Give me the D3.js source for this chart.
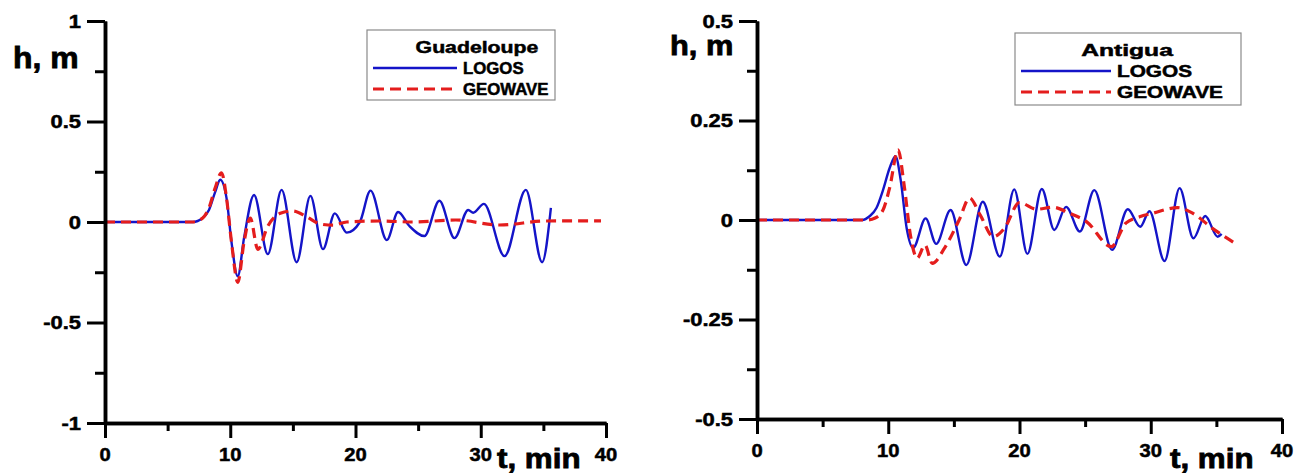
<!DOCTYPE html>
<html>
<head>
<meta charset="utf-8">
<script src="https://cdn.jsdelivr.net/npm/d3@7"></script>
<style>
  body { margin: 0; background: #fff; }
  svg { display: block; }
  text { font-family: "Liberation Sans", Arial, sans-serif; font-weight: 700; fill: #000; stroke: #000; }
</style>
</head>
<body>
<svg id="chart" width="1304" height="473"></svg>
<script>
// t (min), h (m)
const guadLogos = [[0,0],[7.0,0],[7.8,0.02],[8.3,0.06],[8.8,0.15],[9.2,0.21],[9.7,0.12],[10.1,-0.1],[10.6,-0.27],
  [11.1,-0.08],[11.9,0.134],[13.0,-0.16],[14.1,0.16],[15.3,-0.20],[16.4,0.13],[17.4,-0.135],[18.35,0.043],
  [19.3,-0.053],[20.35,0.0],[21.2,0.156],[22.5,-0.09],[23.4,0.05],[24.3,-0.02],[25.5,-0.07],[26.7,0.106],
  [27.9,-0.08],[29.0,0.06],[29.4,0.046],[30.25,0.09],[31.9,-0.17],[33.6,0.16],[34.9,-0.20],[35.6,0.07]]
const guadGeowave = [[0,0],[7.0,0],[7.8,0.02],[8.3,0.07],[8.8,0.17],[9.3,0.245],[9.7,0.12],[10.1,-0.1],[10.6,-0.30],
  [11.1,-0.1],[11.6,0.02],[12.2,-0.136],[13.0,-0.02],[14.0,0.043],[15.0,0.055],[16.1,0.026],[17.2,-0.01],
  [18.2,-0.016],[19.3,0.0],[21.9,0.005],[24.6,0.0],[28.0,0.01],[31.5,-0.015],[35.2,0.005],[39.6,0.006]]
const antLogos = [[0,0],[8.0,0],[8.6,0.01],[9.1,0.03],[9.6,0.075],[10.1,0.13],[10.55,0.16],[10.95,0.1],[11.4,-0.02],
  [11.9,-0.07],[12.85,0.004],[13.65,-0.06],[14.75,0.025],[15.95,-0.113],[17.2,0.046],[18.5,-0.092],[19.6,0.077],
  [20.6,-0.085],[21.7,0.078],[22.65,-0.025],[23.55,0.033],[24.6,-0.029],[25.7,0.075],[27.05,-0.075],[28.25,0.027],
  [29.2,-0.017],[29.9,0.022],[31.05,-0.103],[32.2,0.08],[33.25,-0.046],[34.15,0.01],[35.1,-0.042],[35.4,-0.035]]
const antGeowave = [[0,0],[8.4,0],[9.0,0.005],[9.6,0.025],[10.1,0.08],[10.75,0.176],[11.2,0.09],[11.7,-0.04],
  [12.2,-0.096],[12.8,-0.063],[13.35,-0.109],[14.3,-0.07],[15.4,0],[16.2,0.055],[17.0,0.013],[18.0,-0.042],
  [18.85,-0.021],[20.0,0.044],[21.3,0.027],[22.55,0.032],[23.8,0.017],[25.1,-0.004],[27.0,-0.067],[28.1,-0.008],
  [29.15,0.008],[30.15,0.017],[32.05,0.031],[33.2,0.017],[34.7,-0.021],[36.65,-0.063]]

const xTicks = [0, 10, 20, 30, 40]
const xMinor = [5, 15, 25, 35]
const guadYTicks = [1, 0.5, 0, -0.5, -1]
const guadYMinor = [0.75, 0.25, -0.25, -0.75]
const antYTicks = [0.5, 0.25, 0, -0.25, -0.5]
const antYMinor = [0.375, 0.125, -0.125, -0.375]
const seriesNames = ["LOGOS", "GEOWAVE"]

const BLUE = "#1414c8"
const RED = "#e41d1d"
const svg = d3.select("#chart")

// the picture is stretched sideways, so text gets a horizontal scale
function label(g, x, y, txt, size, anchor, sx, sw) {
    return g.append("text")
      .attr("transform", "translate(" + x + "," + y + ") scale(" + sx + ",1)")
      .attr("text-anchor", anchor)
      .attr("font-size", size)
      .attr("font-weight", "bold")
      .attr("stroke-width", sw || 0.5)
      .text(txt)
}

function drawPanel(cfg) {
    const g = svg.append("g")
    const x = d3.scaleLinear().domain([0, 40]).range(cfg.xr)
    const y = d3.scaleLinear().domain(cfg.yd).range(cfg.yr)

    const line = d3.line()
      .x(d => x(d[0]))
      .y(d => y(d[1]))
      .curve(d3.curveMonotoneX)

    g.append("path")
      .attr("d", line(cfg.logos))
      .attr("fill", "none")
      .attr("stroke", BLUE)
      .attr("stroke-width", 2.4)

    g.append("path")
      .attr("d", line(cfg.geowave))
      .attr("fill", "none")
      .attr("stroke", RED)
      .attr("stroke-width", 3.2)
      .attr("stroke-dasharray", "10,6")

    // axes
    const yAxis = g.append("g").attr("transform", "translate(" + cfg.xr[0] + ",0)")
    yAxis.call(d3.axisLeft(y).tickValues(cfg.yTicks).tickSize(18).tickSizeOuter(0).tickFormat(""))
    const yMin = g.append("g").attr("transform", "translate(" + cfg.xr[0] + ",0)")
    yMin.call(d3.axisLeft(y).tickValues(cfg.yMinor).tickSize(10).tickSizeOuter(0).tickFormat(""))

    const xAxis = g.append("g").attr("transform", "translate(0," + cfg.yr[0] + ")")
    xAxis.call(d3.axisBottom(x).tickValues(xTicks).tickSize(15).tickSizeOuter(0).tickFormat(""))
    const xMin = g.append("g").attr("transform", "translate(0," + cfg.yr[0] + ")")
    xMin.call(d3.axisBottom(x).tickValues(xMinor).tickSize(8).tickSizeOuter(0).tickFormat(""))

    g.selectAll(".domain").attr("stroke", "#000").attr("stroke-width", 3.5)
    g.selectAll(".tick line").attr("stroke", "#000").attr("stroke-width", 3)

    cfg.yTicks.forEach(v => label(g, cfg.xr[0] - 24, y(v) + 6.5, String(v), 18, "end", 1.22))
    xTicks.forEach(v => label(g, x(v), cfg.yr[0] + 38, String(v), 18, "middle", 1.12))

    label(g, cfg.hPos[0], cfg.hPos[1], "h, m", cfg.hSize, "start", 1.1, 0.8)
    label(g, cfg.tPos[0], cfg.tPos[1], "t, min", 28, "start", 1.12, 0.8)

    // legend
    const L = cfg.legend
    g.append("rect")
      .attr("x", L.x).attr("y", L.y)
      .attr("width", L.w).attr("height", L.h)
      .attr("fill", "#fff")
      .attr("stroke", "#8a8a8a")
      .attr("stroke-width", 1.2)
    label(g, L.x + L.tx, L.y + 23, cfg.title, 17, "middle", L.tsx)
    seriesNames.forEach((name, i) => {
        const ly = L.y + 38 + i * 21
        g.append("line")
          .attr("x1", L.x + 6).attr("x2", L.x + 6 + L.lineW)
          .attr("y1", ly).attr("y2", ly)
          .attr("stroke", i === 0 ? BLUE : RED)
          .attr("stroke-width", i === 0 ? 2.4 : 3.2)
          .attr("stroke-dasharray", i === 0 ? null : "11,6")
        label(g, L.x + L.lineW + 12, ly + 6, name, 16, "start", L.sx)
    })
}

drawPanel({
    xr: [105, 606], yr: [423, 21], yd: [-1, 1],
    yTicks: guadYTicks, yMinor: guadYMinor,
    logos: guadLogos, geowave: guadGeowave,
    hPos: [13, 68], hSize: 29, tPos: [497, 468],
    title: "Guadeloupe",
    legend: {x: 367, y: 30, w: 188, h: 70, lineW: 84, sx: 1.05, tx: 110, tsx: 1.25}
})

drawPanel({
    xr: [757, 1282], yr: [419, 21], yd: [-0.5, 0.5],
    yTicks: antYTicks, yMinor: antYMinor,
    logos: antLogos, geowave: antGeowave,
    hPos: [670, 55], hSize: 28, tPos: [1170, 468],
    title: "Antigua",
    legend: {x: 1015, y: 33, w: 226, h: 72, lineW: 90, sx: 1.3, tx: 112, tsx: 1.45}
})
</script>
</body>
</html>
